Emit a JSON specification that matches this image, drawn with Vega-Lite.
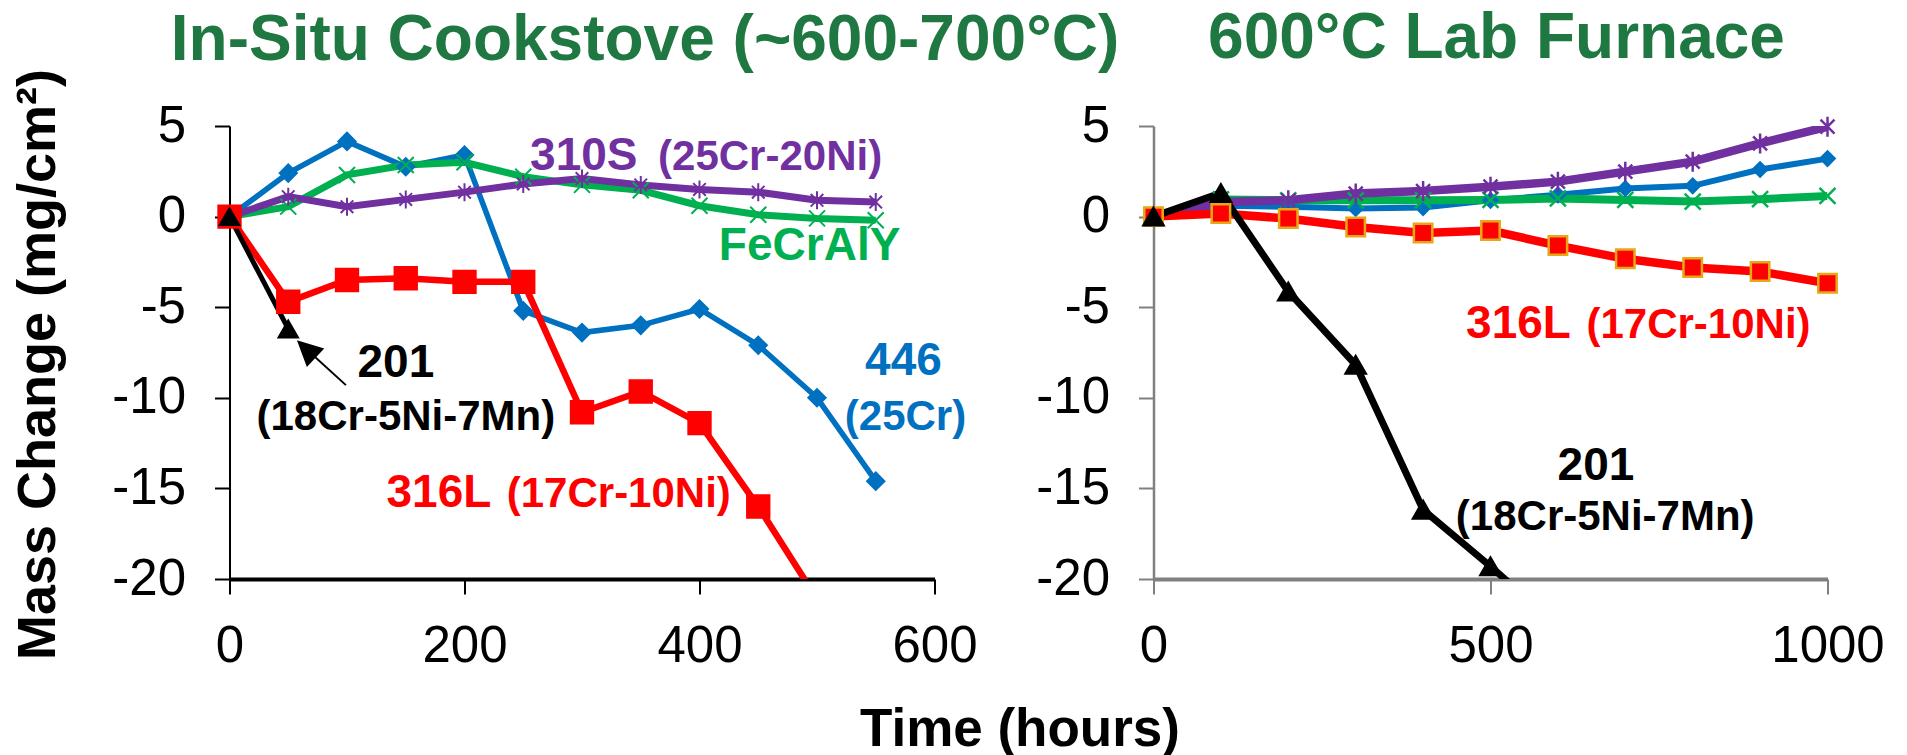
{
  "$schema": "https://vega.github.io/schema/vega-lite/v6.json",
  "padding": {"left": 10.5, "top": 7, "right": 5, "bottom": 0},
  "background": "white",
  "bounds": "flush",
  "spacing": 219,
  "config": {
    "font": "Liberation Sans",
    "view": {"stroke": null},
    "axis": {"grid": false, "labelFlush": false, "labelOverlap": false, "labelFont": "Liberation Sans", "labelFontSize": 51, "labelColor": "black", "tickSize": 15, "titleFont": "Liberation Sans", "titleFontWeight": "bold", "titleColor": "black", "labelExpr": "'' + datum.value"},
    "title": {"font": "Liberation Sans", "fontSize": 64, "fontWeight": "bold", "color": "#1F7741", "anchor": "middle", "frame": "group", "baseline": "alphabetic"}
  },
  "resolve": {"scale": {"color": "independent", "stroke": "independent", "fill": "independent", "strokeWidth": "independent", "size": "independent", "shape": "independent"}},
  "datasets": {
    "cook": [
      {"s": "446", "t": 0, "m": 0}, {"s": "446", "t": 50, "m": 2.4}, {"s": "446", "t": 100, "m": 4.15}, {"s": "446", "t": 150, "m": 2.75}, {"s": "446", "t": 200, "m": 3.4}, {"s": "446", "t": 250, "m": -5.2}, {"s": "446", "t": 300, "m": -6.4}, {"s": "446", "t": 350, "m": -6.0}, {"s": "446", "t": 400, "m": -5.1}, {"s": "446", "t": 450, "m": -7.1}, {"s": "446", "t": 500, "m": -10.0}, {"s": "446", "t": 550, "m": -14.6},
      {"s": "FeCrAlY", "t": 0, "m": 0}, {"s": "FeCrAlY", "t": 50, "m": 0.55}, {"s": "FeCrAlY", "t": 100, "m": 2.3}, {"s": "FeCrAlY", "t": 150, "m": 2.85}, {"s": "FeCrAlY", "t": 200, "m": 3.0}, {"s": "FeCrAlY", "t": 250, "m": 2.2}, {"s": "FeCrAlY", "t": 300, "m": 1.75}, {"s": "FeCrAlY", "t": 350, "m": 1.45}, {"s": "FeCrAlY", "t": 400, "m": 0.6}, {"s": "FeCrAlY", "t": 450, "m": 0.1}, {"s": "FeCrAlY", "t": 500, "m": -0.1}, {"s": "FeCrAlY", "t": 550, "m": -0.2},
      {"s": "310S", "t": 0, "m": 0}, {"s": "310S", "t": 50, "m": 1.1}, {"s": "310S", "t": 100, "m": 0.55}, {"s": "310S", "t": 150, "m": 0.95}, {"s": "310S", "t": 200, "m": 1.35}, {"s": "310S", "t": 250, "m": 1.8}, {"s": "310S", "t": 300, "m": 2.1}, {"s": "310S", "t": 350, "m": 1.75}, {"s": "310S", "t": 400, "m": 1.5}, {"s": "310S", "t": 450, "m": 1.35}, {"s": "310S", "t": 500, "m": 0.9}, {"s": "310S", "t": 550, "m": 0.8},
      {"s": "316L", "t": 0, "m": 0}, {"s": "316L", "t": 50, "m": -4.7}, {"s": "316L", "t": 100, "m": -3.5}, {"s": "316L", "t": 150, "m": -3.4}, {"s": "316L", "t": 200, "m": -3.6}, {"s": "316L", "t": 250, "m": -3.6}, {"s": "316L", "t": 300, "m": -10.8}, {"s": "316L", "t": 350, "m": -9.65}, {"s": "316L", "t": 400, "m": -11.4}, {"s": "316L", "t": 450, "m": -16.0}, {"s": "316L", "t": 500, "m": -21.1},
      {"s": "201", "t": 0, "m": 0}, {"s": "201", "t": 50, "m": -6.2}
    ],
    "lab": [
      {"s": "446", "t": 0, "m": 0}, {"s": "446", "t": 100, "m": 0.6}, {"s": "446", "t": 200, "m": 0.55}, {"s": "446", "t": 300, "m": 0.45}, {"s": "446", "t": 400, "m": 0.5}, {"s": "446", "t": 500, "m": 0.9}, {"s": "446", "t": 600, "m": 1.2}, {"s": "446", "t": 700, "m": 1.55}, {"s": "446", "t": 800, "m": 1.7}, {"s": "446", "t": 900, "m": 2.6}, {"s": "446", "t": 1000, "m": 3.2},
      {"s": "FeCrAlY", "t": 0, "m": 0}, {"s": "FeCrAlY", "t": 100, "m": 0.95}, {"s": "FeCrAlY", "t": 200, "m": 0.9}, {"s": "FeCrAlY", "t": 300, "m": 0.9}, {"s": "FeCrAlY", "t": 400, "m": 0.9}, {"s": "FeCrAlY", "t": 500, "m": 0.92}, {"s": "FeCrAlY", "t": 600, "m": 1.0}, {"s": "FeCrAlY", "t": 700, "m": 0.92}, {"s": "FeCrAlY", "t": 800, "m": 0.83}, {"s": "FeCrAlY", "t": 900, "m": 0.96}, {"s": "FeCrAlY", "t": 1000, "m": 1.14},
      {"s": "310S", "t": 0, "m": 0}, {"s": "310S", "t": 100, "m": 0.8}, {"s": "310S", "t": 200, "m": 0.9}, {"s": "310S", "t": 300, "m": 1.27}, {"s": "310S", "t": 400, "m": 1.41}, {"s": "310S", "t": 500, "m": 1.65}, {"s": "310S", "t": 600, "m": 1.93}, {"s": "310S", "t": 700, "m": 2.48}, {"s": "310S", "t": 800, "m": 3.03}, {"s": "310S", "t": 900, "m": 4.04}, {"s": "310S", "t": 1000, "m": 4.96},
      {"s": "316L", "t": 0, "m": 0}, {"s": "316L", "t": 100, "m": 0.17}, {"s": "316L", "t": 200, "m": -0.11}, {"s": "316L", "t": 300, "m": -0.57}, {"s": "316L", "t": 400, "m": -0.9}, {"s": "316L", "t": 500, "m": -0.77}, {"s": "316L", "t": 600, "m": -1.6}, {"s": "316L", "t": 700, "m": -2.33}, {"s": "316L", "t": 800, "m": -2.81}, {"s": "316L", "t": 900, "m": -3.03}, {"s": "316L", "t": 1000, "m": -3.68},
      {"s": "201", "t": 0, "m": 0}, {"s": "201", "t": 100, "m": 1.3}, {"s": "201", "t": 200, "m": -4.14}, {"s": "201", "t": 300, "m": -8.18}, {"s": "201", "t": 400, "m": -16.18}, {"s": "201", "t": 500, "m": -19.3}, {"s": "201", "t": 600, "m": -22.6}
    ],
    "cookNotes": [
      {"s": "310S", "part": "name", "label": "310S", "t": 301.5, "m": 2.56},
      {"s": "310S", "part": "alloy", "label": "(25Cr-20Ni)", "t": 460.1, "m": 2.56},
      {"s": "FeCrAlY", "part": "name", "label": "FeCrAlY", "t": 493.7, "m": -2.41},
      {"s": "201", "part": "name", "label": "201", "t": 141.6, "m": -8.86},
      {"s": "201", "part": "alloy", "label": "(18Cr-5Ni-7Mn)", "t": 150.1, "m": -11.78},
      {"s": "446", "part": "name", "label": "446", "t": 573.6, "m": -8.75},
      {"s": "446", "part": "alloy", "label": "(25Cr)", "t": 575.3, "m": -11.78},
      {"s": "316L", "part": "name", "label": "316L", "t": 178.2, "m": -16.03},
      {"s": "316L", "part": "alloy", "label": "(17Cr-10Ni)", "t": 331.3, "m": -16.03}
    ],
    "labNotes": [
      {"s": "316L", "part": "name", "label": "316L", "t": 541.5, "m": -6.71},
      {"s": "316L", "part": "alloy", "label": "(17Cr-10Ni)", "t": 808.6, "m": -6.71},
      {"s": "201", "part": "name", "label": "201", "t": 656.5, "m": -14.54},
      {"s": "201", "part": "alloy", "label": "(18Cr-5Ni-7Mn)", "t": 670.2, "m": -17.3}
    ],
    "arrowLine": [
      {"t": 99.1, "m": -9.3}, {"t": 65.3, "m": -7.31}
    ],
    "arrowHead": [
      {"t": 65.3, "m": -7.31}
    ]
  },
  "hconcat": [
    {
      "width": 705,
      "height": 453,
      "title": {"text": "In-Situ Cookstove (~600-700°C)", "dx": 63, "offset": -5},
      "layer": [
        {
          "data": {"name": "cook"},
          "mark": {"type": "line", "clip": true},
          "encoding": {
            "x": {"field": "t", "type": "quantitative", "scale": {"domain": [0, 600], "nice": false},
              "axis": {"values": [0, 200, 400, 600], "title": "Time (hours)", "titleFontSize": 53, "titleX": 790, "titleY": 166, "titleBaseline": "alphabetic", "titleAlign": "center", "domainColor": "black", "domainWidth": 4, "tickColor": "black", "tickWidth": 2, "labelPadding": 27}},
            "y": {"field": "m", "type": "quantitative", "scale": {"domain": [-20, 5], "nice": false, "zero": false},
              "axis": {"values": [-20, -15, -10, -5, 0, 5], "title": "Mass Change (mg/cm²)", "titleFontSize": 54, "titleX": -175, "titleY": 238, "titleAngle": 270, "titleBaseline": "alphabetic", "titleAlign": "center", "domainColor": "black", "domainWidth": 2, "tickColor": "black", "tickWidth": 2, "labelPadding": 29}},
            "color": {"field": "s", "type": "nominal", "scale": {"domain": ["446", "FeCrAlY", "310S", "316L", "201"], "range": ["#0070C0", "#00B050", "#7030A0", "#FF0000", "#000000"]}, "legend": null},
            "strokeWidth": {"field": "s", "type": "nominal", "scale": {"type": "ordinal", "domain": ["446", "FeCrAlY", "310S", "316L", "201"], "range": [5.5, 7, 7, 6.5, 5]}, "legend": null}
          }
        },
        {
          "data": {"name": "arrowLine"},
          "mark": {"type": "line", "color": "black", "strokeWidth": 2},
          "encoding": {
            "x": {"field": "t", "type": "quantitative"},
            "y": {"field": "m", "type": "quantitative"}
          }
        },
        {
          "data": {"name": "arrowHead"},
          "mark": {"type": "point", "shape": "M0,-1L-1,1L1,1Z", "size": 650, "angle": 313, "filled": true, "color": "black", "opacity": 1},
          "encoding": {
            "x": {"field": "t", "type": "quantitative"},
            "y": {"field": "m", "type": "quantitative"}
          }
        },
        {
          "data": {"name": "cook"},
          "transform": [{"filter": "datum.m >= -20"}],
          "mark": {"type": "point", "strokeWidth": 2, "opacity": 1},
          "encoding": {
            "x": {"field": "t", "type": "quantitative"},
            "y": {"field": "m", "type": "quantitative"},
            "shape": {"field": "s", "type": "nominal", "scale": {"domain": ["446", "FeCrAlY", "310S", "316L", "201"], "range": ["diamond", "M-1,-1L1,1M-1,1L1,-1", "M-0.7,-0.7L0.7,0.7M-0.7,0.7L0.7,-0.7M0,-1L0,1", "square", "triangle-up"]}, "legend": null},
            "fill": {"field": "s", "type": "nominal", "scale": {"domain": ["446", "FeCrAlY", "310S", "316L", "201"], "range": ["#0070C0", "#00B050", "#7030A0", "#FF0000", "#000000"]}, "legend": null},
            "stroke": {"field": "s", "type": "nominal", "scale": {"domain": ["446", "FeCrAlY", "310S", "316L", "201"], "range": ["#0070C0", "#00B050", "#7030A0", "#FF0000", "#000000"]}, "legend": null},
            "size": {"field": "s", "type": "nominal", "scale": {"type": "ordinal", "domain": ["446", "FeCrAlY", "310S", "316L", "201"], "range": [300, 256, 324, 500, 380]}, "legend": null}
          }
        },
        {
          "data": {"name": "cookNotes"},
          "transform": [{"filter": "datum.part == 'name'"}],
          "mark": {"type": "text", "fontSize": 46, "fontWeight": "bold", "align": "center", "baseline": "alphabetic"},
          "encoding": {
            "x": {"field": "t", "type": "quantitative"},
            "y": {"field": "m", "type": "quantitative"},
            "text": {"field": "label"},
            "color": {"field": "s", "type": "nominal", "legend": null}
          }
        },
        {
          "data": {"name": "cookNotes"},
          "transform": [{"filter": "datum.part == 'alloy'"}],
          "mark": {"type": "text", "fontSize": 42, "fontWeight": "bold", "align": "center", "baseline": "alphabetic"},
          "encoding": {
            "x": {"field": "t", "type": "quantitative"},
            "y": {"field": "m", "type": "quantitative"},
            "text": {"field": "label"},
            "color": {"field": "s", "type": "nominal", "legend": null}
          }
        }
      ]
    },
    {
      "width": 674,
      "height": 453,
      "title": {"text": "600°C Lab Furnace", "dx": 6, "offset": 29},
      "layer": [
        {
          "data": {"name": "lab"},
          "mark": {"type": "line", "clip": true},
          "encoding": {
            "x": {"field": "t", "type": "quantitative", "scale": {"domain": [0, 1000], "nice": false},
              "axis": {"values": [0, 500, 1000], "title": null, "domainColor": "#808080", "domainWidth": 4, "tickColor": "#808080", "tickWidth": 2, "labelPadding": 27}},
            "y": {"field": "m", "type": "quantitative", "scale": {"domain": [-20, 5], "nice": false, "zero": false},
              "axis": {"values": [-20, -15, -10, -5, 0, 5], "title": null, "domainColor": "#808080", "domainWidth": 2.5, "tickColor": "#808080", "tickWidth": 2, "labelPadding": 29}},
            "color": {"field": "s", "type": "nominal", "scale": {"domain": ["446", "FeCrAlY", "310S", "316L", "201"], "range": ["#0070C0", "#00B050", "#7030A0", "#FF0000", "#000000"]}, "legend": null},
            "strokeWidth": {"field": "s", "type": "nominal", "scale": {"type": "ordinal", "domain": ["446", "FeCrAlY", "310S", "316L", "201"], "range": [6, 8, 8.5, 8.5, 7]}, "legend": null}
          }
        },
        {
          "data": {"name": "lab"},
          "transform": [{"filter": "datum.m >= -20"}],
          "mark": {"type": "point", "strokeWidth": 2.5, "opacity": 1},
          "encoding": {
            "x": {"field": "t", "type": "quantitative"},
            "y": {"field": "m", "type": "quantitative"},
            "shape": {"field": "s", "type": "nominal", "scale": {"domain": ["446", "FeCrAlY", "310S", "316L", "201"], "range": ["diamond", "M-1,-1L1,1M-1,1L1,-1", "M-0.7,-0.7L0.7,0.7M-0.7,0.7L0.7,-0.7M0,-1L0,1", "square", "triangle-up"]}, "legend": null},
            "fill": {"field": "s", "type": "nominal", "scale": {"domain": ["446", "FeCrAlY", "310S", "316L", "201"], "range": ["#0070C0", "#00B050", "#7030A0", "#FF0000", "#000000"]}, "legend": null},
            "stroke": {"field": "s", "type": "nominal", "scale": {"domain": ["446", "FeCrAlY", "310S", "316L", "201"], "range": ["#0070C0", "#00B050", "#7030A0", "#E6A817", "#000000"]}, "legend": null},
            "size": {"field": "s", "type": "nominal", "scale": {"type": "ordinal", "domain": ["446", "FeCrAlY", "310S", "316L", "201"], "range": [200, 256, 400, 340, 400]}, "legend": null}
          }
        },
        {
          "data": {"name": "labNotes"},
          "transform": [{"filter": "datum.part == 'name'"}],
          "mark": {"type": "text", "fontSize": 46, "fontWeight": "bold", "align": "center", "baseline": "alphabetic"},
          "encoding": {
            "x": {"field": "t", "type": "quantitative"},
            "y": {"field": "m", "type": "quantitative"},
            "text": {"field": "label"},
            "color": {"field": "s", "type": "nominal", "legend": null}
          }
        },
        {
          "data": {"name": "labNotes"},
          "transform": [{"filter": "datum.part == 'alloy'"}],
          "mark": {"type": "text", "fontSize": 42, "fontWeight": "bold", "align": "center", "baseline": "alphabetic"},
          "encoding": {
            "x": {"field": "t", "type": "quantitative"},
            "y": {"field": "m", "type": "quantitative"},
            "text": {"field": "label"},
            "color": {"field": "s", "type": "nominal", "legend": null}
          }
        }
      ]
    }
  ]
}
